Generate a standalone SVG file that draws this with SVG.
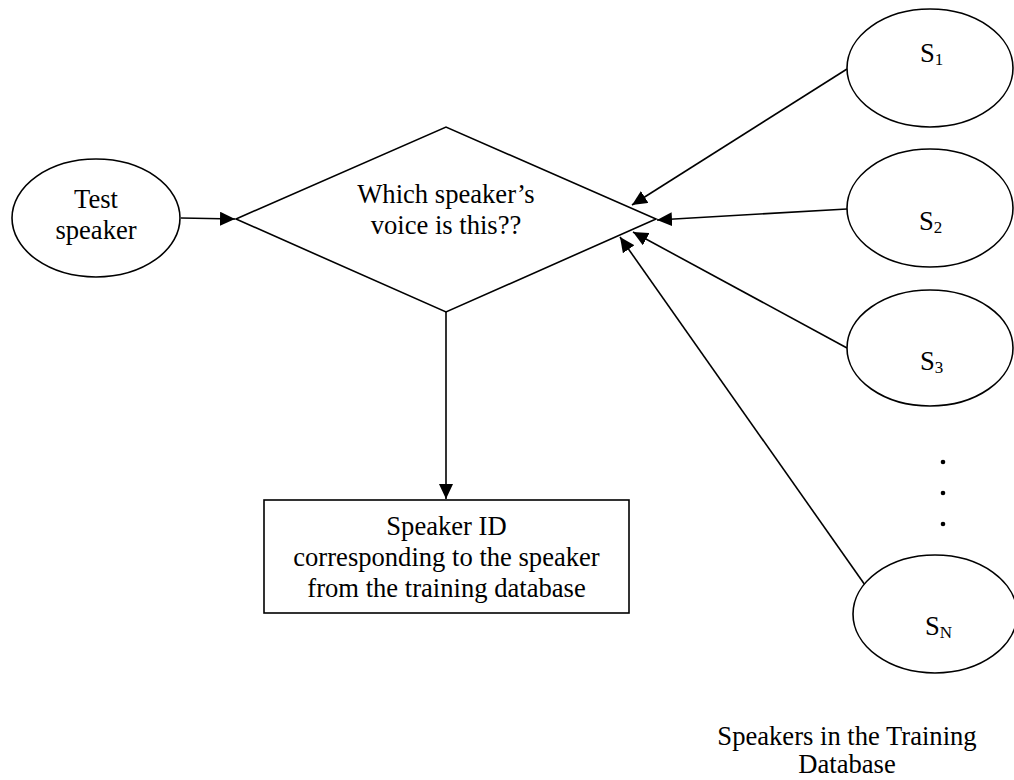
<svg xmlns="http://www.w3.org/2000/svg" width="1014" height="780" viewBox="0 0 1014 780">
  <style>
    .shape { fill: #ffffff; stroke: #000000; stroke-width: 1.6; }
    .conn { fill: none; stroke: #000000; stroke-width: 1.6; }
    .lbl { font-family: "Liberation Serif", "Times New Roman", serif; font-size: 26.6px; fill: #000000; }
    .mid { text-anchor: middle; }
    .sub { font-size: 17px; }
  </style>
  <defs>
    <marker id="arrow" markerUnits="userSpaceOnUse" markerWidth="16" markerHeight="14" refX="15" refY="7" orient="auto">
      <path d="M0,0 L15,7 L0,14 z" fill="#000000"/>
    </marker>
  </defs>
  <rect width="1014" height="780" fill="#ffffff"/>

  <!-- connectors -->
  <g id="connectors">
    <line class="conn" x1="181" y1="218" x2="235" y2="219" marker-end="url(#arrow)"/>
    <line class="conn" x1="847" y1="69" x2="632" y2="205" marker-end="url(#arrow)"/>
    <line class="conn" x1="847" y1="209" x2="657" y2="220" marker-end="url(#arrow)"/>
    <line class="conn" x1="847" y1="348" x2="633" y2="232" marker-end="url(#arrow)"/>
    <line class="conn" x1="865" y1="585" x2="620" y2="237" marker-end="url(#arrow)"/>
    <line class="conn" x1="446" y1="312" x2="446" y2="499" marker-end="url(#arrow)"/>
  </g>

  <!-- input speaker -->
  <g id="test-speaker">
    <ellipse class="shape" cx="96" cy="218" rx="84" ry="59"/>
    <text class="lbl mid" x="96" y="208">Test</text>
    <text class="lbl mid" x="96" y="239">speaker</text>
  </g>

  <!-- decision -->
  <g id="decision">
    <polygon class="shape" points="236,219 446,127 656,219 446,312"/>
    <text class="lbl mid" x="446" y="203">Which speaker’s</text>
    <text class="lbl mid" x="446" y="234">voice is this??</text>
  </g>

  <!-- result -->
  <g id="result">
    <rect class="shape" x="264" y="500" width="365" height="113"/>
    <text class="lbl mid" x="446.5" y="535">Speaker ID</text>
    <text class="lbl mid" x="446.5" y="566">corresponding to the speaker</text>
    <text class="lbl mid" x="446.5" y="597">from the training database</text>
  </g>

  <!-- training speakers -->
  <g id="s1">
    <ellipse class="shape" cx="930" cy="68" rx="83" ry="59"/>
    <text class="lbl" x="920" y="62">S<tspan class="sub" dy="3">1</tspan></text>
  </g>
  <g id="s2">
    <ellipse class="shape" cx="930" cy="208" rx="83" ry="59"/>
    <text class="lbl" x="919" y="230">S<tspan class="sub" dy="3">2</tspan></text>
  </g>
  <g id="s3">
    <ellipse class="shape" cx="930" cy="348" rx="83" ry="58"/>
    <text class="lbl" x="920" y="370">S<tspan class="sub" dy="3">3</tspan></text>
  </g>
  <g id="ellipsis">
    <circle cx="943" cy="462" r="2.3"/>
    <circle cx="943" cy="493" r="2.3"/>
    <circle cx="943" cy="524" r="2.3"/>
  </g>
  <g id="sn">
    <ellipse class="shape" cx="935" cy="614" rx="82" ry="59"/>
    <text class="lbl" x="925" y="635">S<tspan class="sub" dy="3">N</tspan></text>
  </g>

  <g id="caption">
    <text class="lbl mid" x="847" y="745">Speakers in the Training</text>
    <text class="lbl mid" x="847" y="773">Database</text>
  </g>
</svg>
